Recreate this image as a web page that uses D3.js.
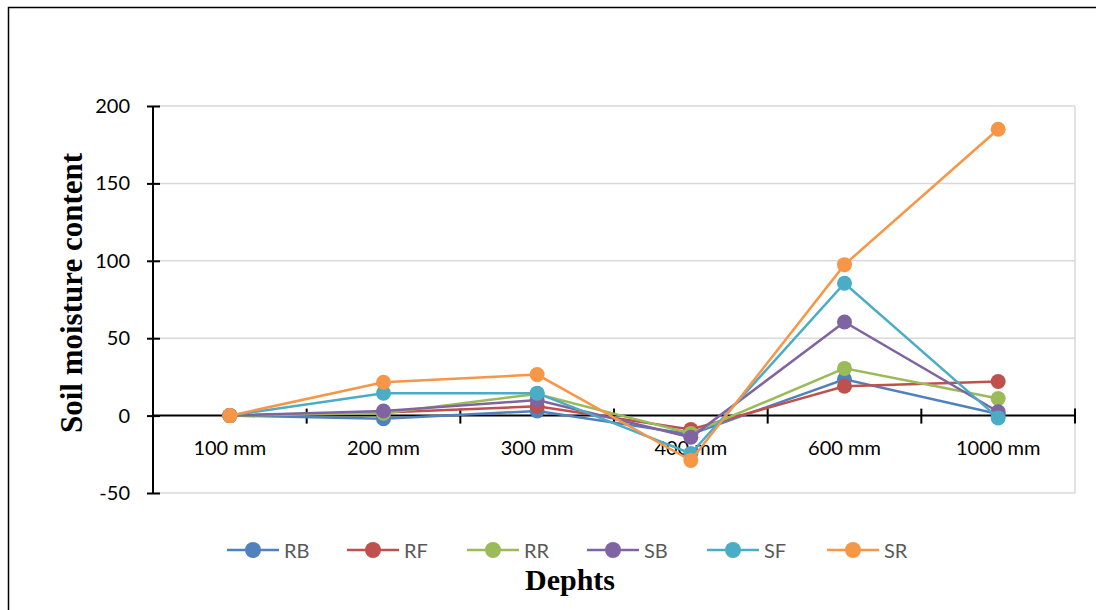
<!DOCTYPE html>
<html>
<head>
<meta charset="utf-8">
<script src="https://cdn.jsdelivr.net/npm/d3@7"></script>
<style>
  body { margin: 0; background: #fff; }
  svg { display: block; }
</style>
</head>
<body>
<div id="chart"></div>
<script>
const depths = ["100 mm", "200 mm", "300 mm", "400 mm", "600 mm", "1000 mm"];
const seriesNames = ["RB", "RF", "RR", "SB", "SF", "SR"];
const colors = ["#4F81BD", "#C0504D", "#9BBB59", "#8064A2", "#4BACC6", "#F79646"];
const RB = [0, -2, 3, -12, 23.5, 1];
const RF = [0, 2, 6, -9, 19, 22];
const RR = [0, 1.5, 14, -11.5, 30.5, 11];
const SB = [0, 3, 10, -14, 60.5, 2.5];
const SF = [0, 14.5, 14.5, -24.5, 85.5, -1.5];
const SR = [0, 21.5, 26.5, -29, 97.5, 185];
const yTicks = [-50, 0, 50, 100, 150, 200];

const seriesValues = [RB, RF, RR, SB, SF, SR];
const series = seriesNames.map((name, i) => ({ name, color: colors[i], values: seriesValues[i] }));

const w = 1096, h = 610;
const svg = d3.select("#chart").append("svg").attr("width", w).attr("height", h);

// chart area border
svg.append("rect").attr("x", 8.5).attr("y", 7.5).attr("width", w).attr("height", h)
  .attr("fill", "none").attr("stroke", "#000").attr("stroke-width", 1.5);

const x = d3.scaleBand().domain(depths).range([153, 1075]);
const y = d3.scaleLinear().domain([-50, 200]).range([493, 106]);
const cx = d => x(d) + x.bandwidth() / 2;

// gridlines
svg.append("g").selectAll("line").data(yTicks.filter(t => t !== 0)).join("line")
  .attr("x1", 153).attr("x2", 1075)
  .attr("y1", d => y(d)).attr("y2", d => y(d))
  .attr("stroke", "#d9d9d9").attr("stroke-width", 1.5);
svg.append("line").attr("x1", 1075).attr("x2", 1075).attr("y1", y(200)).attr("y2", y(-50))
  .attr("stroke", "#d9d9d9").attr("stroke-width", 1.5);

// y axis
const yAxis = svg.append("g").attr("transform", "translate(153,0)")
  .call(d3.axisLeft(y).tickValues(yTicks).tickSize(6).tickPadding(17).tickFormat(d => String(d)));
yAxis.select(".domain").attr("stroke", "#000").attr("stroke-width", 2).attr("d", `M0,${y(200)}V${y(-50)}`);
yAxis.selectAll(".tick line").attr("x1", -6).attr("x2", 7).attr("stroke-width", 2);
yAxis.selectAll(".tick text").style("font-family", "Lato, sans-serif").style("font-size", "20px").attr("fill", "#000");

// x axis at zero
const xg = svg.append("g").attr("transform", `translate(0,${y(0)})`);
xg.append("line").attr("x1", 153).attr("x2", 1075).attr("stroke", "#000").attr("stroke-width", 2);
xg.selectAll("line.tk").data(d3.range(depths.length + 1)).join("line").attr("class", "tk")
  .attr("x1", i => 153 + i * x.step()).attr("x2", i => 153 + i * x.step())
  .attr("y1", -7).attr("y2", 8).attr("stroke", "#000").attr("stroke-width", 2);
xg.selectAll("text").data(depths).join("text")
  .attr("x", d => cx(d)).attr("y", 39).attr("text-anchor", "middle")
  .style("font-family", "Lato, sans-serif").style("font-size", "20px").attr("fill", "#000")
  .text(d => d);

// lines and markers
const line = d3.line().x((v, i) => cx(depths[i])).y(v => y(v));
const sg = svg.append("g").selectAll("g").data(series).join("g");
sg.append("path").attr("d", d => line(d.values)).attr("fill", "none")
  .attr("stroke", d => d.color).attr("stroke-width", 2.5);
sg.selectAll("circle").data(d => d.values.map(v => ({ v, color: d.color }))).join("circle")
  .attr("cx", (d, i) => cx(depths[i])).attr("cy", d => y(d.v)).attr("r", 7.5)
  .attr("fill", d => d.color);

// legend
const lg = svg.append("g").selectAll("g").data(series).join("g")
  .attr("transform", (d, i) => `translate(${253 + i * 120},550)`);
lg.append("line").attr("x1", -26).attr("x2", 26).attr("stroke", d => d.color).attr("stroke-width", 2.5);
lg.append("circle").attr("r", 8).attr("fill", d => d.color);
lg.append("text").attr("x", 31).attr("y", 8).style("font-family", "Lato, sans-serif")
  .style("font-size", "20px").attr("fill", "#595959").text(d => d.name);

// axis titles
svg.append("text").attr("transform", "translate(82,293) rotate(-90)").attr("text-anchor", "middle")
  .style("font-family", "'Liberation Serif', 'Times New Roman', serif").style("font-weight", "bold")
  .style("font-size", "31px").text("Soil moisture content");
svg.append("text").attr("x", 570).attr("y", 590).attr("text-anchor", "middle")
  .style("font-family", "'Liberation Serif', 'Times New Roman', serif").style("font-weight", "bold")
  .style("font-size", "30px").text("Dephts");
</script>
</body>
</html>
